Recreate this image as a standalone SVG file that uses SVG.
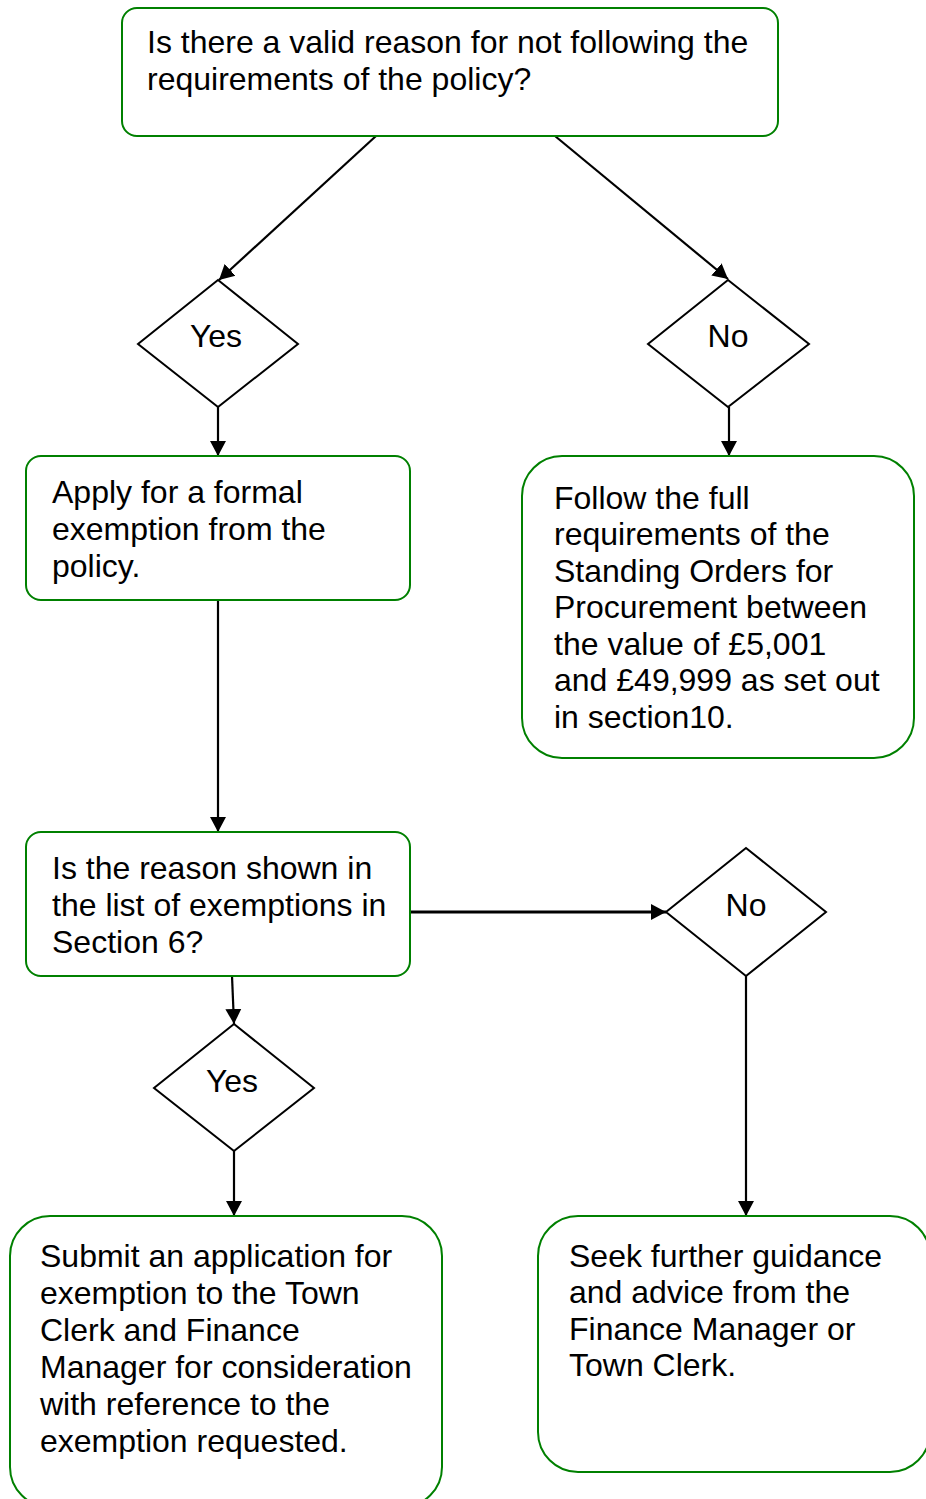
<svg xmlns="http://www.w3.org/2000/svg" width="926" height="1499" viewBox="0 0 926 1499">
  <style>
    .box { fill: #ffffff; stroke: #008000; stroke-width: 2; }
    .dia { fill: #ffffff; stroke: #000000; stroke-width: 2; }
    .conn { fill: none; stroke: #000000; stroke-width: 2.2; }
    .txt { font-family: "Liberation Sans", Arial, sans-serif; font-size: 32px; fill: #000000; }
    .mid { text-anchor: middle; }
  </style>
  <defs>
    <marker id="arrow" markerUnits="userSpaceOnUse" markerWidth="16" markerHeight="18" viewBox="0 0 16 18" refX="15" refY="9" orient="auto">
      <path d="M0,1 L15,9 L0,17 Z" fill="#000000"/>
    </marker>
  </defs>
  <rect width="926" height="1499" fill="#ffffff"/>

  <g id="connectors">
    <line class="conn" x1="376" y1="136" x2="219" y2="280" marker-end="url(#arrow)"/>
    <line class="conn" x1="555" y1="136" x2="728" y2="279" marker-end="url(#arrow)"/>
    <line class="conn" x1="218" y1="407" x2="218" y2="456" marker-end="url(#arrow)"/>
    <line class="conn" x1="729" y1="407" x2="729" y2="456" marker-end="url(#arrow)"/>
    <line class="conn" x1="218" y1="600" x2="218" y2="832" marker-end="url(#arrow)"/>
    <line class="conn" x1="410" y1="912" x2="666" y2="912" style="stroke-width:2.8" marker-end="url(#arrow)"/>
    <line class="conn" x1="746" y1="976" x2="746" y2="1216" marker-end="url(#arrow)"/>
    <line class="conn" x1="232" y1="976" x2="234" y2="1024" marker-end="url(#arrow)"/>
    <line class="conn" x1="234" y1="1151" x2="234" y2="1216" marker-end="url(#arrow)"/>
  </g>

  <g id="q1">
    <rect class="box" x="122" y="8" width="656" height="128" rx="15" ry="15"/>
    <text class="txt" x="147" y="53">Is there a valid reason for not following the</text>
    <text class="txt" x="147" y="90">requirements of the policy?</text>
  </g>

  <g id="yes1">
    <polygon class="dia" points="218,280 298,344 218,407 138,344"/>
    <text class="txt mid" x="216" y="347">Yes</text>
  </g>

  <g id="no1">
    <polygon class="dia" points="728,280 809,344 728,407 648,344"/>
    <text class="txt mid" x="728" y="347">No</text>
  </g>

  <g id="apply">
    <rect class="box" x="26" y="456" width="384" height="144" rx="15" ry="15"/>
    <text class="txt" x="52" y="503">Apply for a formal</text>
    <text class="txt" x="52" y="540">exemption from the</text>
    <text class="txt" x="52" y="577">policy.</text>
  </g>

  <g id="follow">
    <rect class="box" x="522" y="456" width="392" height="302" rx="40" ry="40"/>
    <text class="txt" x="554" y="509">Follow the full</text>
    <text class="txt" x="554" y="545">requirements of the</text>
    <text class="txt" x="554" y="582">Standing Orders for</text>
    <text class="txt" x="554" y="618">Procurement between</text>
    <text class="txt" x="554" y="655">the value of £5,001</text>
    <text class="txt" x="554" y="691">and £49,999 as set out</text>
    <text class="txt" x="554" y="728">in section10.</text>
  </g>

  <g id="q2">
    <rect class="box" x="26" y="832" width="384" height="144" rx="15" ry="15"/>
    <text class="txt" x="52" y="879">Is the reason shown in</text>
    <text class="txt" x="52" y="916">the list of exemptions in</text>
    <text class="txt" x="52" y="953">Section 6?</text>
  </g>

  <g id="no2">
    <polygon class="dia" points="746,848 826,912 746,976 666,912"/>
    <text class="txt mid" x="746" y="916">No</text>
  </g>

  <g id="yes2">
    <polygon class="dia" points="234,1024 314,1088 234,1151 154,1088"/>
    <text class="txt mid" x="232" y="1092">Yes</text>
  </g>

  <g id="submit">
    <rect class="box" x="10" y="1216" width="432" height="291" rx="40" ry="40"/>
    <text class="txt" x="40" y="1267">Submit an application for</text>
    <text class="txt" x="40" y="1304">exemption to the Town</text>
    <text class="txt" x="40" y="1341">Clerk and Finance</text>
    <text class="txt" x="40" y="1378">Manager for consideration</text>
    <text class="txt" x="40" y="1415">with reference to the</text>
    <text class="txt" x="40" y="1452">exemption requested.</text>
  </g>

  <g id="seek">
    <rect class="box" x="538" y="1216" width="392" height="256" rx="40" ry="40"/>
    <text class="txt" x="569" y="1267">Seek further guidance</text>
    <text class="txt" x="569" y="1303">and advice from the</text>
    <text class="txt" x="569" y="1340">Finance Manager or</text>
    <text class="txt" x="569" y="1376">Town Clerk.</text>
  </g>
</svg>
